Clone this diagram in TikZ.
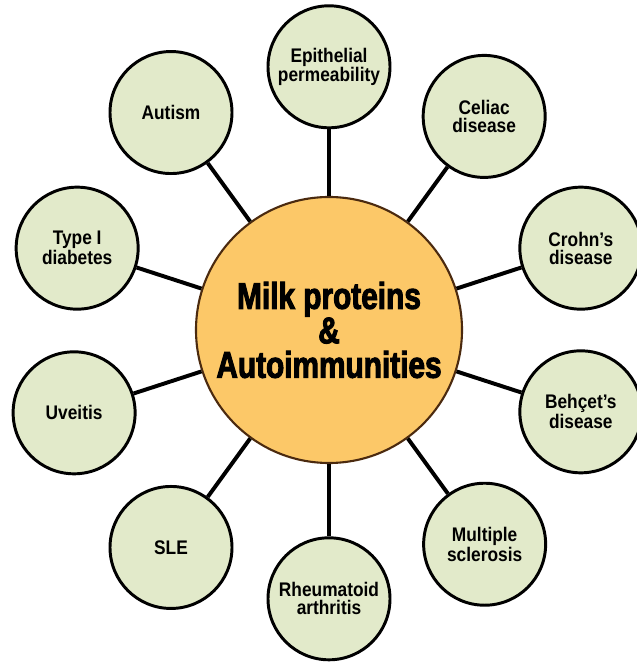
\documentclass[tikz,border=0pt]{standalone}
\usepackage{fontspec}
\setmainfont{Liberation Sans}
\newfontfamily\hubfont[FakeStretch=0.8,BoldFeatures={FakeBold=2.6}]{Liberation Sans}
\newfontfamily\leaffont[FakeStretch=0.88]{Liberation Sans}
\usepackage{xcolor}
\usepackage{tikz}
\usetikzlibrary{shapes.geometric, positioning, calc}

\definecolor{leafgreen}{RGB}{226,234,202}
\definecolor{huborange}{RGB}{252,200,104}
\definecolor{hubbrown}{RGB}{75,42,15}

\begin{document}
\begin{tikzpicture}[
    hub/.style={circle, draw=hubbrown, line width=1.5pt, fill=huborange, minimum size=6.65cm,
                inner sep=0pt, align=center, font=\hubfont\bfseries\fontsize{26.5}{24.5}\selectfont},
    leaf/.style={circle, draw=black, line width=2.1pt, fill=leafgreen, minimum size=3.05cm,
                 inner sep=0pt, align=center, font=\leaffont\bfseries\fontsize{14}{13}\selectfont},
    spoke/.style={line width=2.8pt, black}
]
\useasboundingbox (-8.225,-8.3) rectangle (7.675,8.25);

\node[hub] (hub) at (0,0) {Milk proteins\\\&\\Autoimmunities};

\node[leaf] (epi) at (90:6.58)  {Epithelial\\permeability};
\node[leaf] (cel) at (54:6.6)   {Celiac\\disease};
\node[leaf] (cro) at (18:6.62)  {Crohn’s\\disease};
\node[leaf] (beh) at (-18:6.62) {Behçet’s\\disease};
\node[leaf] (mul) at (-54:6.62) {Multiple\\sclerosis};
\node[leaf] (rhe) at (-90:6.72) {Rheumatoid\\arthritis};
\node[leaf] (sle) at (-126:6.72) {SLE};
\node[leaf] (uve) at (198:6.7)  {Uveitis};
\node[leaf] (typ) at (162:6.62) {Type I\\diabetes};
\node[leaf] (aut) at (126:6.72) {Autism};

\draw[spoke] (hub) -- (epi);
\draw[spoke] (hub) -- (cel);
\draw[spoke] (hub) -- (cro);
\draw[spoke] (hub) -- (beh);
\draw[spoke] (hub) -- (mul);
\draw[spoke] (hub) -- (rhe);
\draw[spoke] (hub) -- (sle);
\draw[spoke] (hub) -- (uve);
\draw[spoke] (hub) -- (typ);
\draw[spoke] (hub) -- (aut);
\end{tikzpicture}
\end{document}
